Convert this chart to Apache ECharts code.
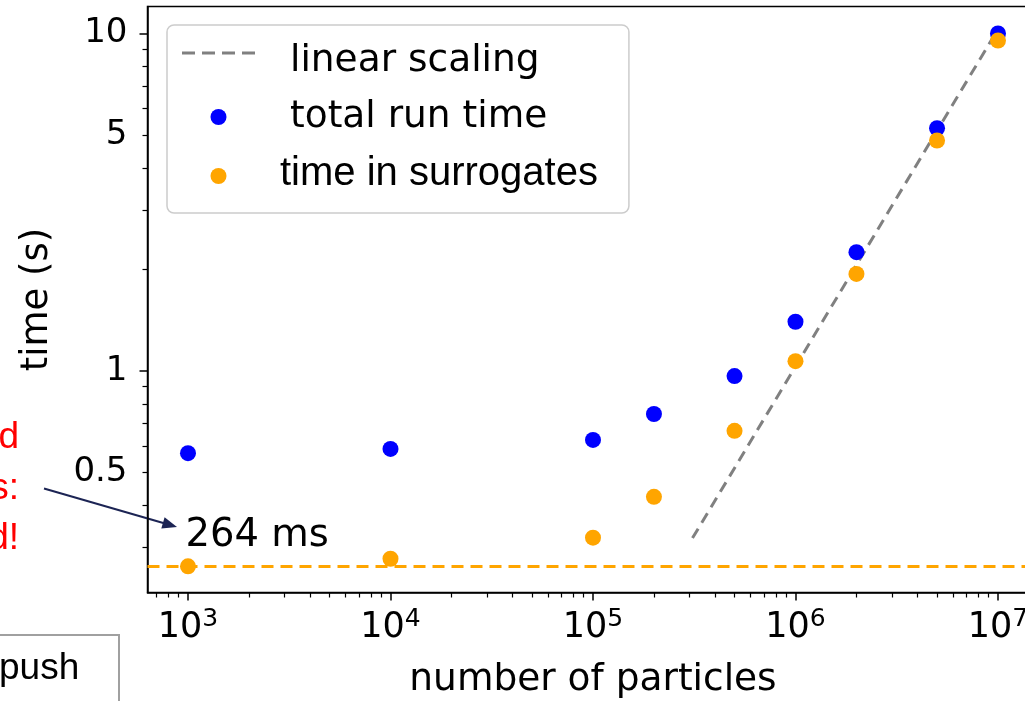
<!DOCTYPE html>
<html>
<head>
<meta charset="utf-8">
<script src="https://cdn.jsdelivr.net/npm/echarts@6/dist/echarts.min.js"></script>
<style>
  html, body { margin: 0; padding: 0; background: #ffffff; }
  #chart { width: 1025px; height: 701px; }
</style>
</head>
<body>
<div id="chart"></div>
<script>
// Number of particles pushed through the surrogate model
const particles = [1e3, 1e4, 1e5, 2e5, 5e5, 1e6, 2e6, 5e6, 1e7];
// Wall-clock times in seconds
const totalRunTime = [0.571, 0.588, 0.625, 0.746, 0.966, 1.40, 2.25, 5.24, 10.0];
const timeInSurrogates = [0.264, 0.278, 0.321, 0.424, 0.665, 1.07, 1.94, 4.82, 9.53];
// Reference line for ideal linear scaling (time proportional to N)
const linearScalingN = [3.1e5, 1e7];
const linearScalingT = [0.32, 10.3];
// Fixed overhead of the surrogate call (seconds)
const surrogateFloor = 0.264;

// Axis tick positions
const xMajorTicks = [1e3, 1e4, 1e5, 1e6, 1e7];
const xMinorTicks = [700, 800, 900,
  2e3, 3e3, 4e3, 5e3, 6e3, 7e3, 8e3, 9e3,
  2e4, 3e4, 4e4, 5e4, 6e4, 7e4, 8e4, 9e4,
  2e5, 3e5, 4e5, 5e5, 6e5, 7e5, 8e5, 9e5,
  2e6, 3e6, 4e6, 5e6, 6e6, 7e6, 8e6, 9e6];
const yLabelTicks = [0.5, 1, 5, 10];
const yMajorTicks = [1, 10];
const yMinorTicks = [0.3, 0.4, 0.5, 0.6, 0.7, 0.8, 0.9, 2, 3, 4, 5, 6, 7, 8, 9];

const xRange = [631, 1.585e7];
const yRange = [0.2208, 12.02];

const MPL_FONT = 'DejaVu Sans';
const SLIDE_FONT = 'Liberation Sans';

const chart = echarts.init(document.getElementById('chart'), null, { renderer: 'canvas' });

const axisLineStyle = { color: '#000000', width: 1.5 };

function baseLogAxis(range) {
  return {
    type: 'log',
    logBase: 10,
    min: range[0],
    max: range[1],
    splitLine: { show: false },
    minorTick: { show: false },
    minorSplitLine: { show: false }
  };
}

function slideText(text, x, y, color, align) {
  return {
    type: 'text', x: x, y: y,
    style: {
      text: text,
      fontFamily: SLIDE_FONT,
      fontSize: 37,
      fill: color,
      align: align,
      verticalAlign: 'middle'
    }
  };
}

// Legend entries: a spacer token sets the gap after the icon and nudges the
// label up or down within its row.
const legendRich = {
  sp1: { width: 30, fontSize: 1, lineHeight: 54 },
  sp2: { width: 30, fontSize: 1, lineHeight: 44 },
  sp3: { width: 20, fontSize: 1, lineHeight: 44 },
  low: { fontFamily: MPL_FONT, fontSize: 37.5, lineHeight: 44, color: '#000000', verticalAlign: 'bottom' },
  mid: { fontFamily: MPL_FONT, fontSize: 37.5, lineHeight: 44, color: '#000000' },
  high: { fontFamily: SLIDE_FONT, fontSize: 40, lineHeight: 36, color: '#000000', verticalAlign: 'top' }
};
const legendTokens = {
  'linear scaling': ['sp1', 'low'],
  'total run time': ['sp2', 'mid'],
  'time in surrogates': ['sp3', 'high']
};

const option = {
  backgroundColor: '#ffffff',
  animation: false,
  grid: {
    show: true,
    left: 147.5,
    top: 6.5,
    width: 891,
    height: 586,
    containLabel: false,
    outerBoundsMode: 'none',
    borderColor: '#000000',
    borderWidth: 1.5,
    backgroundColor: 'transparent'
  },
  xAxis: [
    Object.assign(baseLogAxis(xRange), {
      position: 'bottom',
      axisLine: { show: true, lineStyle: axisLineStyle },
      axisTick: { show: true, length: 8, inside: false, customValues: xMajorTicks, lineStyle: axisLineStyle },
      axisLabel: {
        show: true,
        customValues: xMajorTicks,
        margin: 14,
        formatter: function (v) {
          return '{b|10}{s|' + Math.round(Math.log10(v)) + '}';
        },
        rich: {
          b: { fontFamily: MPL_FONT, fontSize: 35, color: '#000000' },
          s: { fontFamily: MPL_FONT, fontSize: 25, color: '#000000', padding: [0, 0, 18, 0] }
        }
      },
      name: 'number of particles',
      nameLocation: 'middle',
      nameGap: 69,
      nameTextStyle: { fontFamily: MPL_FONT, fontSize: 37.5, color: '#000000' }
    }),
    Object.assign(baseLogAxis(xRange), {
      position: 'bottom',
      axisLine: { show: false },
      axisTick: { show: true, length: 5, inside: false, customValues: xMinorTicks, lineStyle: { color: '#000000', width: 1.2 } },
      axisLabel: { show: false }
    })
  ],
  yAxis: [
    Object.assign(baseLogAxis(yRange), {
      position: 'left',
      axisLine: { show: true, lineStyle: axisLineStyle },
      axisTick: { show: true, length: 8, inside: false, customValues: yMajorTicks, lineStyle: axisLineStyle },
      axisLabel: {
        show: true,
        customValues: yLabelTicks,
        margin: 20,
        fontFamily: MPL_FONT,
        fontSize: 34,
        color: '#000000',
        formatter: function (v) { return String(v); }
      },
      name: 'time (s)',
      nameLocation: 'middle',
      nameGap: 92,
      nameTextStyle: { fontFamily: MPL_FONT, fontSize: 37, color: '#000000' }
    }),
    Object.assign(baseLogAxis(yRange), {
      position: 'left',
      axisLine: { show: false },
      axisTick: { show: true, length: 5, inside: false, customValues: yMinorTicks, lineStyle: { color: '#000000', width: 1.2 } },
      axisLabel: { show: false }
    })
  ],
  legend: {
    orient: 'vertical',
    left: 167,
    top: 25,
    backgroundColor: 'rgba(255,255,255,0.85)',
    borderColor: '#cccccc',
    borderWidth: 1.5,
    borderRadius: 7,
    padding: [17, 31, 19, 15],
    itemWidth: 73,
    itemHeight: 16,
    itemGap: 18,
    symbolKeepAspect: true,
    selectedMode: false,
    formatter: function (name) {
      const t = legendTokens[name];
      return '{' + t[0] + '| }{' + t[1] + '|' + name + '}';
    },
    textStyle: { fontFamily: MPL_FONT, fontSize: 37.5, color: '#000000', rich: legendRich },
    data: [
      { name: 'linear scaling', icon: 'path://M0,0H13V3H0Z M20,0H33V3H20Z M40,0H53V3H40Z M60,0H73V3H60Z' },
      { name: 'total run time', icon: 'circle' },
      { name: 'time in surrogates', icon: 'circle' }
    ]
  },
  series: [
    {
      name: 'linear scaling',
      type: 'line',
      xAxisIndex: 0,
      yAxisIndex: 0,
      symbol: 'none',
      silent: true,
      itemStyle: { color: '#808080' },
      lineStyle: { color: '#808080', width: 3, type: [11, 7] },
      data: linearScalingN.map((n, i) => [n, linearScalingT[i]]),
      z: 2
    },
    {
      name: 'total run time',
      type: 'scatter',
      xAxisIndex: 0,
      yAxisIndex: 0,
      symbol: 'circle',
      symbolSize: 16,
      itemStyle: { color: '#0000ff', opacity: 1 },
      data: particles.map((n, i) => [n, totalRunTime[i]]),
      z: 3
    },
    {
      name: 'time in surrogates',
      type: 'scatter',
      xAxisIndex: 0,
      yAxisIndex: 0,
      symbol: 'circle',
      symbolSize: 16,
      itemStyle: { color: '#ffa500', opacity: 1 },
      data: particles.map((n, i) => [n, timeInSurrogates[i]]),
      z: 4,
      markLine: {
        silent: true,
        symbol: ['none', 'none'],
        animation: false,
        precision: 3,
        lineStyle: { color: '#ffa500', width: 3, type: [12, 7] },
        label: {
          show: true,
          position: 'insideStartTop',
          distance: 11,
          padding: [0, 0, 0, 27],
          fontFamily: MPL_FONT,
          fontSize: 38.5,
          color: '#000000',
          formatter: function (p) { return Math.round(p.value * 1000) + ' ms'; }
        },
        data: [{ yAxis: surrogateFloor }]
      }
    }
  ],
  graphic: [
    // Slide callout text (clipped at the left edge)
    slideText('d', 19, 438, '#ff0000', 'right'),
    slideText('s:', 19, 489, '#ff0000', 'right'),
    slideText('d!', 19, 539, '#ff0000', 'right'),
    // Callout arrow pointing at the surrogate floor label
    {
      type: 'line',
      shape: { x1: 44, y1: 488.5, x2: 165, y2: 523.5 },
      style: { stroke: '#1c2454', lineWidth: 2 }
    },
    {
      type: 'polygon',
      shape: { points: [[177, 527], [161.3, 528.6], [164.6, 517.2]] },
      style: { fill: '#1c2454' }
    },
    // Neighbouring slide box
    {
      type: 'rect',
      shape: { x: -10, y: 635, width: 129, height: 90 },
      style: { fill: '#ffffff', stroke: '#a0a0a0', lineWidth: 2 }
    },
    slideText('push', -1, 669, '#000000', 'left')
  ]
};

chart.setOption(option);
</script>
</body>
</html>
